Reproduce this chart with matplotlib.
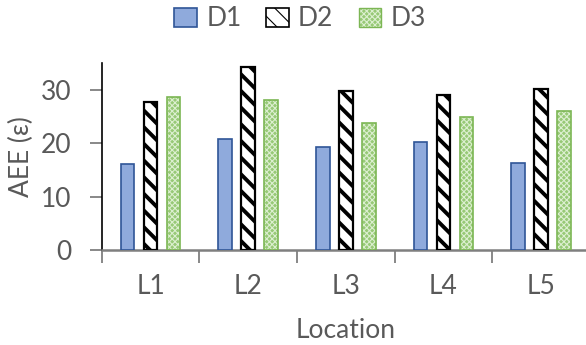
import matplotlib
matplotlib.use("Agg")
import matplotlib.pyplot as plt
from matplotlib.patches import Patch

locations = ["L1", "L2", "L3", "L4", "L5"]
series_names = ["D1", "D2", "D3"]
d1_values = [16.1, 20.8, 19.3, 20.2, 16.3]
d2_values = [27.8, 34.3, 29.8, 29.0, 30.2]
d3_values = [28.6, 28.1, 23.9, 25.0, 26.1]
y_ticks = [0, 10, 20, 30]

TEXT = "#595959"
AXIS_GREY = "#7f7f7f"
FONT = "Lato"
SIZE = 19

plt.rcParams["font.family"] = [FONT, "DejaVu Sans"]

fig = plt.figure(figsize=(5.86, 3.45), dpi=100)
ax = fig.add_axes([0.1735, 0.2754, 0.8333, 0.541])

centers = [i + 0.5 for i in range(len(locations))]
step = 0.235
width = 0.14


def set_hatch_lw(bars, lw):
    for b in bars:
        if hasattr(b, "set_hatch_linewidth"):
            b.set_hatch_linewidth(lw)


# D1: plain blue bars
ax.bar([c - step for c in centers], d1_values, width,
       facecolor="#8faadc", edgecolor="#2f5597", linewidth=1.2, zorder=3)

# D2: white bars with thick black diagonal stripes
plt.rcParams["hatch.linewidth"] = 2.8
d2_bars = ax.bar(centers, d2_values, width, facecolor="white",
                 edgecolor="black", hatch="\\\\", linewidth=1.6, zorder=3)
set_hatch_lw(d2_bars, 2.8)

# D3: green fill with a fine light texture, then an outline on top
plt.rcParams["hatch.linewidth"] = 0.8
d3_bars = ax.bar([c + step for c in centers], d3_values, width,
                 facecolor="#97c976", edgecolor="#dcefd0", hatch="xxxxxx",
                 linewidth=0, zorder=3)
set_hatch_lw(d3_bars, 0.8)
ax.bar([c + step for c in centers], d3_values, width, fill=False,
       edgecolor="#7cb654", linewidth=1.2, zorder=4)

ax.set_xlim(0, len(locations))
ax.set_ylim(0, 35)

# category boundaries get the tick marks, centers get the labels
ax.set_xticks(range(len(locations) + 1))
ax.set_xticklabels([])
ax.set_xticks(centers, minor=True)
ax.set_xticklabels(locations, minor=True)
ax.tick_params(axis="x", which="major", direction="out", length=9,
               width=1.3, color=AXIS_GREY)
ax.tick_params(axis="x", which="minor", length=0, pad=17,
               labelsize=SIZE, labelcolor=TEXT)

ax.set_yticks(y_ticks)
ax.tick_params(axis="y", direction="out", length=9, width=1.3,
               color=AXIS_GREY, pad=13, labelsize=SIZE, labelcolor=TEXT)

for side in ("top", "right"):
    ax.spines[side].set_visible(False)
ax.spines["left"].set_color("black")
ax.spines["left"].set_linewidth(1.2)
ax.spines["bottom"].set_color(AXIS_GREY)
ax.spines["bottom"].set_linewidth(1.8)

ax.set_xlabel("Location", fontsize=SIZE, color=TEXT, labelpad=14)
ax.set_ylabel("AEE (ε)", fontsize=SIZE, color=TEXT, labelpad=5)

handles = [
    Patch(facecolor="#8faadc", edgecolor="#2f5597", linewidth=1.2),
    Patch(facecolor="white", edgecolor="black", hatch="\\\\", linewidth=1.2),
    (Patch(facecolor="#97c976", edgecolor="#dcefd0", hatch="xxxxxx", linewidth=0),
     Patch(fill=False, edgecolor="#7cb654", linewidth=1.0)),
]
fig.legend(handles, series_names, loc="center", bbox_to_anchor=(0.512, 0.945),
           ncol=3, frameon=False, fontsize=SIZE, labelcolor=TEXT,
           handlelength=0.85, handleheight=0.75, handletextpad=0.35,
           columnspacing=0.95)

fig.savefig("out.png", dpi=100)
